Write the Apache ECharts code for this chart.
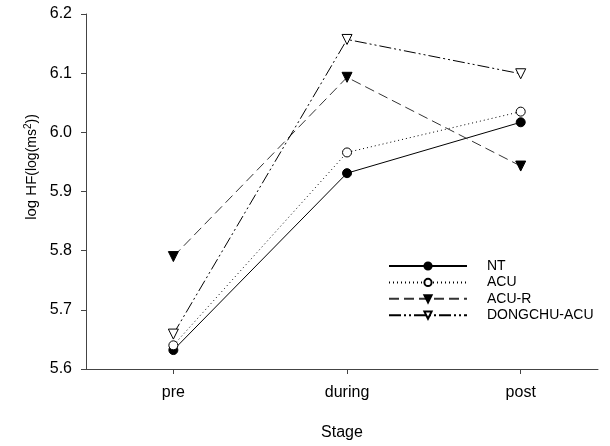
<!DOCTYPE html>
<html><head><meta charset="utf-8">
<script src="https://cdn.jsdelivr.net/npm/echarts@6/dist/echarts.min.js"></script>
<style>html,body{margin:0;padding:0;background:#fff}#c{width:610px;height:446px}</style>
</head><body><div id="c"></div>
<script>
var categories = ['pre', 'during', 'post'];
var seriesNames = ['NT', 'ACU', 'ACU-R', 'DONGCHU-ACU'];
var ntValues = [5.632, 5.931, 6.017];
var acuValues = [5.640, 5.966, 6.035];
var acurValues = [5.790, 6.093, 5.943];
var dongchuValues = [5.659, 6.157, 6.099];
var yTicks = [5.6, 5.7, 5.8, 5.9, 6.0, 6.1, 6.2];

function pts(vals){ return vals.map(function(v,i){ return [i, v]; }); }
var font = 'Liberation Sans, Arial, sans-serif';
var chart = echarts.init(document.getElementById('c'), null, {renderer:'canvas'});
function mk(name, vals, symbol, rot, fill, dash, color){
  return {
    name: name, type: 'line', data: pts(vals), symbol: symbol, symbolSize: symbol==='circle'?9:10,
    symbolRotate: rot, showSymbol: true,
    lineStyle: {color: color, width: 1, type: dash},
    itemStyle: {color: fill, borderColor: '#000', borderWidth: 1},
    emphasis: {disabled: true}, animation: false, z: 3
  };
}
chart.setOption({
  animation: false,
  grid: {left: 86, right: 12, top: 14, bottom: 66, containLabel: false},
  xAxis: {
    type: 'value', min: -0.503, max: 2.445,
    name: 'Stage', nameLocation: 'middle', nameGap: 56,
    nameTextStyle: {fontFamily: font, fontSize: 16, color: '#000'},
    axisLine: {show: true, onZero: false, lineStyle: {color: '#444', width: 1}},
    axisTick: {show: true, length: 5, inside: false, customValues: [0,1,2], lineStyle: {color: '#444'}},
    axisLabel: {customValues: [0,1,2], margin: 16, fontFamily: font, fontSize: 16, color: '#000',
      formatter: function(v){ return categories[Math.round(v)]; }},
    splitLine: {show: false}
  },
  yAxis: {
    type: 'value', min: 5.6, max: 6.2, interval: 0.1,
    axisLine: {show: true, onZero: false, lineStyle: {color: '#444', width: 1}},
    axisTick: {show: true, length: 5, inside: false, lineStyle: {color: '#444'}},
    axisLabel: {margin: 14, fontFamily: font, fontSize: 16, color: '#000',
      formatter: function(v){ return v.toFixed(1); }},
    splitLine: {show: false}
  },
  graphic: [{
    type: 'text', x: 32, y: 167, rotation: Math.PI/2,
    style: {
      text: '{a|log HF}{b|(log(ms}{s|2}{b|))}',
      align: 'center', verticalAlign: 'middle',
      rich: {
        a: {fontFamily: font, fontSize: 15, fill: '#000'},
        b: {fontFamily: font, fontSize: 14, fill: '#000'},
        s: {fontFamily: font, fontSize: 10, fill: '#000', padding: [0,0,8,0]}
      }
    }
  }],
  legend: {
    left: 383, top: 254, orient: 'vertical', itemWidth: 78, itemHeight: 9, itemGap: 2.4,
    textStyle: {fontFamily: font, fontSize: 14, color: '#000', padding: [0,0,0,15]},
    data: seriesNames, selectedMode: false
  },
  series: [
    mk(seriesNames[0], ntValues, 'circle', 0, '#000', 'solid', '#000'),
    mk(seriesNames[1], acuValues, 'circle', 0, '#fff', [1,3], '#000'),
    mk(seriesNames[2], acurValues, 'triangle', 180, '#000', [10,5], '#333'),
    mk(seriesNames[3], dongchuValues, 'triangle', 180, '#fff', [12,3,2,3,2,3], '#000')
  ]
});
</script></body></html>
